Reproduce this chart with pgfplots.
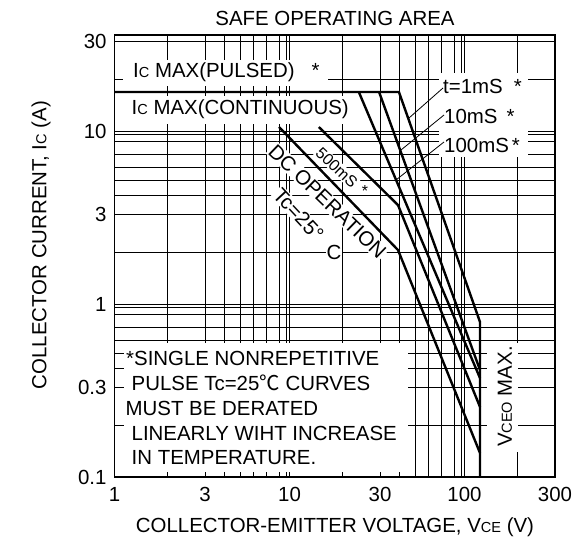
\documentclass[border=0pt]{standalone}
\usepackage{pgfplots}
\pgfplotsset{compat=1.18}
\usepackage{fontspec}
\setmainfont{Liberation Sans}
\newfontfamily\cjk{Noto Sans CJK JP}
\newcommand\fs{\fontsize{20.5}{24.5}\selectfont}
\newcommand\sm[1]{{\fontsize{14.6}{16}\selectfont #1}}
\begin{document}
\begin{tikzpicture}[font=\fs]
\begin{axis}[
  at={(0,0)}, anchor=south west,
  scale only axis, width=440.5bp, height=442bp,
  xmode=log, ymode=log,
  xmin=1, xmax=328.9, ymin=0.1, ymax=35.9,
  xtick={1,3.29,10,32.9,100,328.9},
  xticklabels={1,3,10,30,100,300},
  minor xtick={2,4.22,5.21,6.19,7.34,8.71,9.55,20,42.2,52.1,61.9,73.4,87.1,95.5,200},
  ytick={0.1,0.329,1,3.29,10,32.9},
  yticklabels={0.1,0.3,1,3,10,30},
  minor ytick={0.2,0.422,0.521,0.619,0.734,0.871,0.955,2,4.22,5.21,6.19,7.34,8.71,9.55,20},
  grid=both,
  major grid style={black, line width=0.7bp},
  minor grid style={black, line width=0.7bp},
  major tick length=0pt, minor tick length=0pt,
  axis line style={line width=1.3bp},
  xticklabel style={font=\fs, yshift=-7bp},
  yticklabel style={font=\fs, xshift=-4.5bp},
  clip=false,
]
% t = 1 ms (with Ic max and VCEO max)
\addplot[black, line width=2.4bp, line join=miter] coordinates {(1,16.8) (42.2,16.8) (122.6,0.787) (122.6,0.1)};
% t = 10 ms
\addplot[black, line width=2.4bp] coordinates {(32.5,16.8) (122.6,0.415)};
% t = 100 ms
\addplot[black, line width=2.4bp] coordinates {(24.9,16.8) (122.6,0.373)};
% 500 ms
\addplot[black, line width=2.4bp, line join=miter] coordinates {(14.7,10.55) (41.7,3.73) (122.6,0.254)};
% DC
\addplot[black, line width=2.4bp, line join=miter] coordinates {(8.71,10.55) (41.7,2.05) (122.6,0.1376)};
\end{axis}
\pgfresetboundingbox
\begin{scope}[x=1bp, y=-1bp, shift={(-114.5bp,477bp)}]
\path[use as bounding box] (0,0) rectangle (572,544);
% white areas that hide the grid
\fill[white] (123,60) rectangle (328,86);
\fill[white] (123,96) rectangle (356,124);
\fill[white] (439,73) rectangle (528,157);
\fill[white] (124,343) rectangle (408,472);
\fill[white] (487,343) rectangle (518,452);
% title and axis labels
\node[anchor=base] at (335,25.2) {SAFE OPERATING AREA};
\node[anchor=base] at (335,532.4) {COLLECTOR-EMITTER VOLTAGE, V\sm{CE} (V)};
\node[anchor=base, rotate=90] at (46.5,245) {COLLECTOR CURRENT, I\sm{C} (A)};
% labels
\node[anchor=base west, inner sep=0] at (133,77.5) {I\sm{C} MAX(PULSED)\hspace{17bp}*};
\node[anchor=base west, inner sep=0] at (131.5,114.5) {I\sm{C} MAX(CONTINUOUS)};
\node[anchor=base west, inner sep=0] at (443,94) {t=1mS\hspace{11bp}*};
\node[anchor=base west, inner sep=0] at (444,124) {10mS\hspace{9bp}*};
\node[anchor=base west, inner sep=0] at (444,152.3) {100mS\hspace{3bp}*};
\draw[line width=0.8bp] (443,88) -- (409,118);
\draw[line width=0.8bp] (444,115) -- (401,150);
\draw[line width=0.8bp] (444,142) -- (396,180);
\node[rotate=-44, fill=white, inner sep=1bp] at (327.5,201.5) {DC OPERATION};
\node[rotate=-47, fill=white, inner sep=1bp] at (298.5,214.5) {Tc=25°};
\node[fill=white, inner sep=0.5bp] at (334,252) {C};
\node[rotate=-43.4, fill=white, inner sep=1bp, font=\fontsize{16}{18}\selectfont] at (336.7,167.5) {500mS};
\node[inner sep=0, font=\fontsize{16}{18}\selectfont] at (365,191) {*};
\node[rotate=90, inner sep=0] at (505,396.5) {V\sm{CEO} MAX.};
% note
\node[anchor=base west, inner sep=0] at (126,365.5) {*SINGLE NONREPETITIVE};
\node[anchor=base west, inner sep=0] at (131.5,390.5) {PULSE Tc=25{\cjk ℃} CURVES};
\node[anchor=base west, inner sep=0] at (125.5,415.5) {MUST BE DERATED};
\node[anchor=base west, inner sep=0] at (131.5,440.5) {LINEARLY WIHT INCREASE};
\node[anchor=base west, inner sep=0] at (131.5,464.5) {IN TEMPERATURE.};
\end{scope}
\end{tikzpicture}
\end{document}
